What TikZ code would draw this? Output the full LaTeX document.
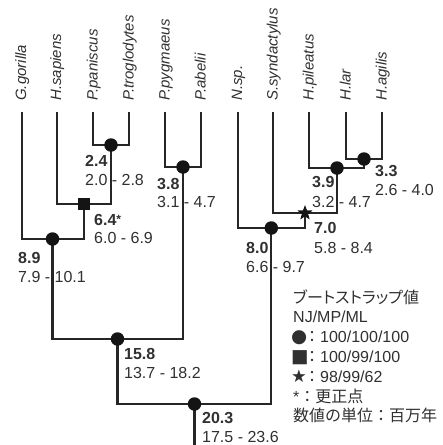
\documentclass[tikz,border=0pt]{standalone}
\usepackage{fontspec}
\setmainfont{Liberation Sans}
\newfontfamily\jp{Noto Sans CJK JP}
\newfontfamily\sym{DejaVu Sans}
\usetikzlibrary{shapes.geometric}
\definecolor{ink}{HTML}{303030}
\definecolor{linecol}{HTML}{262626}
\newcommand{\legsym}[2]{\makebox[14pt][l]{\sym\fontsize{#1}{#1}\selectfont #2}\hspace{-1pt}}
\tikzset{
  branch/.style={draw=linecol, line width=2.2pt},
  dotmark/.style={circle, fill=black!92, inner sep=0pt, minimum size=13.5pt},
  sqmark/.style={rectangle, fill=black!92, inner sep=0pt, minimum size=12.5pt},
  starmark/.style={star, star points=5, star point ratio=2.4, fill=black!92, inner sep=0pt, minimum size=16pt},
  taxon/.style={rotate=90, anchor=base west, inner sep=0pt, text=ink, font=\fontsize{15}{15}\selectfont\itshape},
  agebold/.style={anchor=base west, inner sep=0pt, text=ink, font=\fontsize{16}{16}\selectfont\bfseries},
  agerange/.style={anchor=base west, inner sep=0pt, text=ink, font=\fontsize{16}{16}\selectfont},
  legend/.style={anchor=base west, inner sep=0pt, text=ink, font=\fontsize{16}{16}\selectfont},
}
\begin{document}
\begin{tikzpicture}[x=1pt, y=-1pt]
\useasboundingbox (0,0) rectangle (443,445);
% leaf tips
\coordinate (lGor) at (21.7,112);
\coordinate (lHsa) at (56.7,112);
\coordinate (lPan) at (93,112);
\coordinate (lTro) at (129,112);
\coordinate (lPyg) at (165,112);
\coordinate (lAbe) at (201,112);
\coordinate (lNsp) at (237.7,112);
\coordinate (lSsy) at (273,112);
\coordinate (lPil) at (309,112);
\coordinate (lLar) at (346,112);
\coordinate (lAgi) at (382,112);
\coordinate (rootend) at (194.5,445);
% taxon labels
\node[taxon] (tGor) at (26.2,101) {G.gorilla};
\node[taxon] (tHsa) at (61.2,101) {H.sapiens};
\node[taxon] (tPan) at (97.5,101) {P.paniscus};
\node[taxon] (tTro) at (133.5,101) {P.troglodytes};
\node[taxon] (tPyg) at (169.5,101) {P.pygmaeus};
\node[taxon] (tAbe) at (205.5,101) {P.abelii};
\node[taxon] (tNsp) at (242.2,101) {N.sp.};
\node[taxon] (tSsy) at (277.5,101) {S.syndactylus};
\node[taxon] (tPil) at (313.5,101) {H.pileatus};
\node[taxon] (tLar) at (350.5,101) {H.lar};
\node[taxon] (tAgi) at (386.5,101) {H.agilis};
% internal node positions
\coordinate (nPan) at (111,145);
\coordinate (nHom) at (84,204);
\coordinate (nHgo) at (52.5,239);
\coordinate (nPon) at (183,167);
\coordinate (nHom2) at (117.5,339);
\coordinate (nRoot) at (194.5,404);
\coordinate (nLA) at (364,159);
\coordinate (nHyl) at (337,168);
\coordinate (nSym) at (305,213);
\coordinate (nGib) at (271.3,228);
% branches
\draw[branch] (lPan) |- (nPan) -| (lTro);
\draw[branch] (lHsa) |- (nHom) -| (nPan);
\draw[branch] (lGor) |- (nHgo) -| (nHom);
\draw[branch] (lPyg) |- (nPon) -| (lAbe);
\draw[branch] (nHgo) |- (nHom2) -| (nPon);
\draw[branch] (lLar) |- (nLA) -| (lAgi);
\draw[branch] (lPil) |- (nHyl) -| (nLA);
\draw[branch] (lSsy) |- (nSym) -| (nHyl);
\draw[branch] (lNsp) |- (nGib) -| (nSym);
\draw[branch] (nHom2) |- (nRoot) -| (nGib);
\draw[branch] (nRoot) -- (rootend);
% markers
\node[dotmark] (mPan) at (nPan) {};
\node[sqmark] (mHom) at (nHom) {};
\node[dotmark] (mHgo) at (nHgo) {};
\node[dotmark] (mPon) at (nPon) {};
\node[dotmark] (mHom2) at (nHom2) {};
\node[dotmark] (mRoot) at (nRoot) {};
\node[dotmark] (mLA) at (nLA) {};
\node[dotmark] (mHyl) at (nHyl) {};
\node[starmark] (mSym) at (nSym) {};
\node[dotmark] (mGib) at (nGib) {};
% ages
\node[agebold] (aPan) at (85,166) {2.4};
\node[agerange] (rPan) at (85,185) {2.0 - 2.8};
\node[agebold] (aHom) at (94,225) {6.4\raisebox{1.5pt}{\fontsize{12}{12}\selectfont *}};
\node[agerange] (rHom) at (94,243) {6.0 - 6.9};
\node[agebold] (aHgo) at (18,263) {8.9};
\node[agerange] (rHgo) at (18,282) {7.9 - 10.1};
\node[agebold] (aPon) at (157,189) {3.8};
\node[agerange] (rPon) at (157,207) {3.1 - 4.7};
\node[agebold] (aLA) at (375,176) {3.3};
\node[agerange] (rLA) at (375,195) {2.6 - 4.0};
\node[agebold] (aHyl) at (312,187) {3.9};
\node[agerange] (rHyl) at (312,207) {3.2 - 4.7};
\node[agebold] (aSym) at (314,233) {7.0};
\node[agerange] (rSym) at (314,253) {5.8 - 8.4};
\node[agebold] (aGib) at (246,253) {8.0};
\node[agerange] (rGib) at (246,272) {6.6 - 9.7};
\node[agebold] (aHom2) at (124,359) {15.8};
\node[agerange] (rHom2) at (124,378) {13.7 - 18.2};
\node[agebold] (aRoot) at (202,423) {20.3};
\node[agerange] (rRoot) at (202,442) {17.5 - 23.6};
% legend
\node[legend] (lg1) at (293,303) {\jp\addfontfeature{RawFeature=+palt}ブートストラップ値};
\node[legend] (lg2) at (293,322) {NJ/MP/ML};
\node[legend] (lg3) at (291,342) {\legsym{18.5}{●}{\jp ：}100/100/100};
\node[legend] (lg4) at (291,362) {\legsym{18.5}{■}{\jp ：}100/99/100};
\node[legend] (lg5) at (291,382) {\legsym{17.5}{★}{\jp ：}98/99/62};
\node[legend] (lg6) at (293,402) {*{\jp ：更正点}};
\node[legend] (lg7) at (293,421) {\jp 数値の単位：百万年};
\end{tikzpicture}
\end{document}
